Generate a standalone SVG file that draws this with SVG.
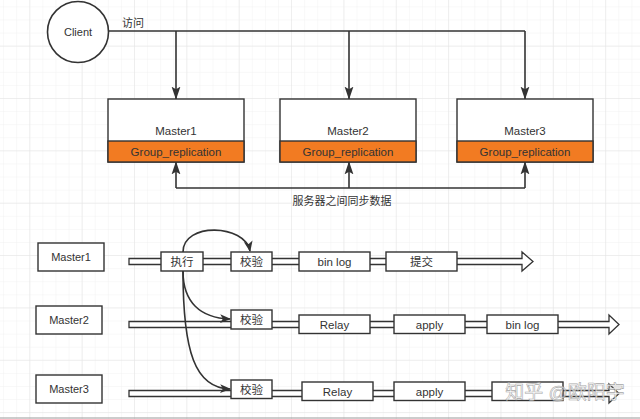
<svg xmlns="http://www.w3.org/2000/svg" width="640" height="419" viewBox="0 0 640 419">
<defs>
<pattern id="minor" x="29.3" y="-6.7" width="13.09" height="13.09" patternUnits="userSpaceOnUse">
<path d="M0,0 H13.09 M0,0 V13.09" fill="none" stroke="#f1f1f1" stroke-width="1"/>
</pattern>
<pattern id="major" x="29.3" y="-6.7" width="52.35" height="52.35" patternUnits="userSpaceOnUse">
<path d="M0,0 H52.35 M0,0 V52.35" fill="none" stroke="#e4e4e4" stroke-width="1"/>
</pattern>
<marker id="ah" viewBox="0 0 10 10" refX="9.5" refY="5" markerWidth="13" markerHeight="13" markerUnits="userSpaceOnUse" orient="auto">
<path d="M0,1.6 L10,5 L0,8.4 L2,5 Z" fill="#333"/>
</marker>
<marker id="ahc" viewBox="0 0 10 10" refX="9" refY="5" markerWidth="11" markerHeight="11" markerUnits="userSpaceOnUse" orient="auto">
<path d="M0,1 L10,5 L0,9 L2.5,5 Z" fill="#333"/>
</marker>
</defs>
<style>
text{font-family:"Liberation Sans","Noto Sans CJK SC",sans-serif;fill:#333;text-anchor:middle;dominant-baseline:central}
.ln{fill:none;stroke:#333;stroke-width:1.6}
.bx{fill:#fff;stroke:#333;stroke-width:1.4}
.or{fill:#F27B22;stroke:#333;stroke-width:1.4}
.t{font-size:11.5px}
.s{font-size:11px}
.m{font-size:11.5px}
.bar{fill:#fff;stroke:#333;stroke-width:1.3}
</style>
<rect width="640" height="419" fill="#fff"/>
<rect width="640" height="419" fill="url(#minor)"/>
<rect width="640" height="419" fill="url(#major)"/>

<g id="connectors">
<path class="ln" d="M109,31 H525"/>
<path class="ln" d="M176,31 V99" marker-end="url(#ah)"/>
<path class="ln" d="M349,31 V99" marker-end="url(#ah)"/>
<path class="ln" d="M525,31 V99" marker-end="url(#ah)"/>
<path class="ln" d="M176,188 H525"/>
<path class="ln" d="M176,188 V162" marker-end="url(#ah)"/>
<path class="ln" d="M349,188 V162" marker-end="url(#ah)"/>
<path class="ln" d="M525,188 V162" marker-end="url(#ah)"/>
<text class="s" x="133" y="23">访问</text>
<text class="s" x="342" y="201">服务器之间同步数据</text>
</g>

<g id="client">
<circle cx="78" cy="32" r="30.5" fill="#fff" stroke="#333" stroke-width="1.6"/>
<text class="s" x="78" y="32">Client</text>
</g>

<g id="master1">
<rect class="bx" x="108" y="99" width="136" height="63"/>
<rect class="or" x="108" y="141" width="136" height="21"/>
<text class="t" x="176" y="131">Master1</text>
<text class="t" x="176" y="151.5">Group_replication</text>
</g>
<g id="master2">
<rect class="bx" x="280" y="99" width="136" height="63"/>
<rect class="or" x="280" y="141" width="136" height="21"/>
<text class="t" x="348" y="131">Master2</text>
<text class="t" x="348" y="151.5">Group_replication</text>
</g>
<g id="master3">
<rect class="bx" x="457" y="99" width="136" height="63"/>
<rect class="or" x="457" y="141" width="136" height="21"/>
<text class="t" x="525" y="131">Master3</text>
<text class="t" x="525" y="151.5">Group_replication</text>
</g>

<g id="label-master1"><rect class="bx" x="38" y="243" width="66" height="28"/><text class="s" x="71" y="257">Master1</text></g>
<g id="label-master2"><rect class="bx" x="36" y="306" width="66" height="28"/><text class="s" x="69" y="320">Master2</text></g>
<g id="label-master3"><rect class="bx" x="36" y="375" width="66" height="28"/><text class="s" x="69" y="389">Master3</text></g>

<g id="timeline1">
<path class="bar" d="M129,258.5 H522 V252 L533,261.5 L522,271 V264.5 H129 Z"/>
</g>
<g id="timeline2">
<path class="bar" d="M129,321.5 H609 V315 L619,324.5 L609,334 V327.5 H129 Z"/>
</g>
<g id="timeline3">
<path class="bar" d="M129,390.5 H609 V384 L619,393.5 L609,403 V396.5 H129 Z"/>
</g>

<g id="r1-exec"><rect class="bx" x="161" y="252" width="42" height="19"/><text class="m" x="182" y="261.5">执行</text></g>
<g id="r1-check"><rect class="bx" x="231" y="252" width="41" height="19"/><text class="m" x="251.5" y="261.5">校验</text></g>
<g id="r1-binlog"><rect class="bx" x="299" y="252" width="71" height="19"/><text class="m" x="334.5" y="261.5">bin log</text></g>
<g id="r1-commit"><rect class="bx" x="386" y="252" width="71" height="19"/><text class="m" x="421.5" y="261.5">提交</text></g>

<g id="r2-check"><rect class="bx" x="231" y="310" width="41" height="19"/><text class="m" x="251.5" y="319.5">校验</text></g>
<g id="r2-relay"><rect class="bx" x="299" y="315" width="71" height="18.5"/><text class="m" x="334.5" y="324.5">Relay</text></g>
<g id="r2-apply"><rect class="bx" x="394" y="315" width="71" height="18.5"/><text class="m" x="429.5" y="324.5">apply</text></g>
<g id="r2-binlog"><rect class="bx" x="487" y="315" width="71" height="18.5"/><text class="m" x="522.5" y="324.5">bin log</text></g>

<g id="r3-check"><rect class="bx" x="231" y="380" width="41" height="18.5"/><text class="m" x="251.5" y="389.5">校验</text></g>
<g id="r3-relay"><rect class="bx" x="302" y="382" width="71" height="18.5"/><text class="m" x="337.5" y="391.5">Relay</text></g>
<g id="r3-apply"><rect class="bx" x="394" y="382" width="71" height="18.5"/><text class="m" x="429.5" y="391.5">apply</text></g>
<g id="r3-box"><rect class="bx" x="492" y="382" width="71" height="18.5"/></g>

<g id="flow-connectors">
<path class="ln" d="M183,252 C183,222 245,224 250,251" marker-end="url(#ahc)"/>
<path class="ln" d="M183,271 C183,302 200,318 230,319" marker-end="url(#ahc)"/>
<path class="ln" d="M183,271 C183,352 195,388 230,389" marker-end="url(#ahc)"/>
</g>

<text x="565" y="392" style="font-size:19px;fill:#fff;stroke:#999;stroke-width:0.6;opacity:0.85">知乎 @欧阳宇</text>
<line x1="0" y1="418" x2="640" y2="418" stroke="#9a9a9a" stroke-width="1.2"/>
</svg>
